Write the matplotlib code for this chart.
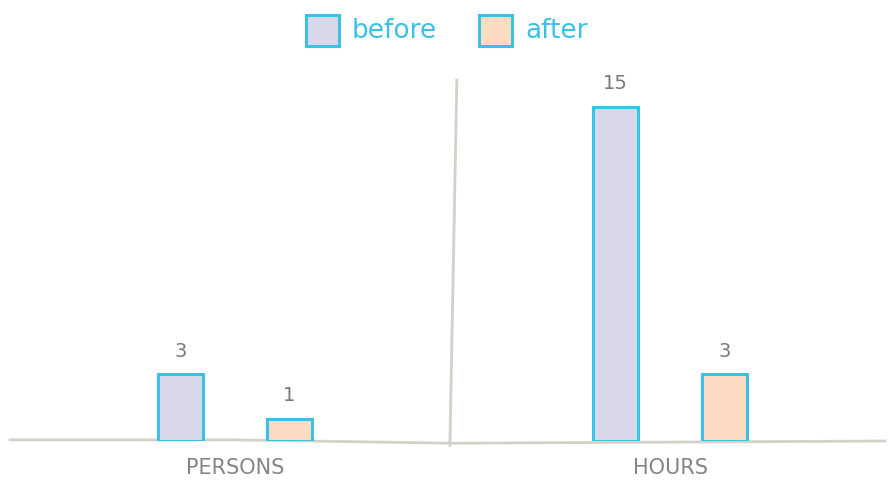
import numpy as np
import matplotlib.pyplot as plt

categories = ['PERSONS', 'HOURS']
before = [3, 15]
after = [1, 3]
series_names = ['before', 'after']

plt.rcParams['font.family'] = ['DejaVu Sans']

fill_before = '#d9d8ea'
fill_after = '#fddbc2'
edge = '#3cc1e6'
grey = '#d2d2c8'
text_grey = '#7a7a7e'

fig = plt.figure(figsize=(8.88, 4.82), dpi=100)
ax = fig.add_axes([10 / 888, 41 / 482, 875 / 888, 361 / 482])

x = np.arange(len(categories))
off = 0.125
w = 0.104

b1 = ax.bar(x - off, before, w, color=fill_before, edgecolor=edge, linewidth=2.2, zorder=3)
b2 = ax.bar(x + off, after, w, color=fill_after, edgecolor=edge, linewidth=2.2, zorder=3)

for bars, vals in ((b1, before), (b2, after)):
    for r, v in zip(bars, vals):
        ax.text(r.get_x() + r.get_width() / 2, v + 0.6, str(v), ha='center', va='bottom',
                fontsize=14, color=text_grey)

# baseline and the divider between the two groups
ax.plot([-0.517, 0.0, 0.5, 1.0, 1.494], [0.05, 0.05, -0.1, -0.05, 0.0], color=grey,
        linewidth=2, zorder=2, clip_on=False)
ax.plot([0.494, 0.51], [-0.2, 16.2], color=grey, linewidth=2, zorder=2, clip_on=False)

ax.set_xlim(-0.517, 1.494)
ax.set_ylim(0, 16.2)
ax.set_xticks(x)
ax.set_xticklabels(categories, fontsize=15, color='#858589')
ax.tick_params(axis='x', length=0, pad=12)
ax.set_yticks([])
for s in ax.spines.values():
    s.set_visible(False)

# legend along the top
leg_y = 1 - 31 / 482
fig.patches.append(plt.Rectangle((306 / 888, 1 - 46 / 482), 33 / 888, 31 / 482,
                                 transform=fig.transFigure, facecolor=fill_before,
                                 edgecolor=edge, linewidth=2.2))
fig.text(352 / 888, leg_y, series_names[0], color=edge, fontsize=19,
         va='center', ha='left')
fig.patches.append(plt.Rectangle((479 / 888, 1 - 46 / 482), 33 / 888, 31 / 482,
                                 transform=fig.transFigure, facecolor=fill_after,
                                 edgecolor=edge, linewidth=2.2))
fig.text(525 / 888, leg_y, series_names[1], color=edge, fontsize=19,
         va='center', ha='left')

fig.savefig('out.png', dpi=100, facecolor='white')
